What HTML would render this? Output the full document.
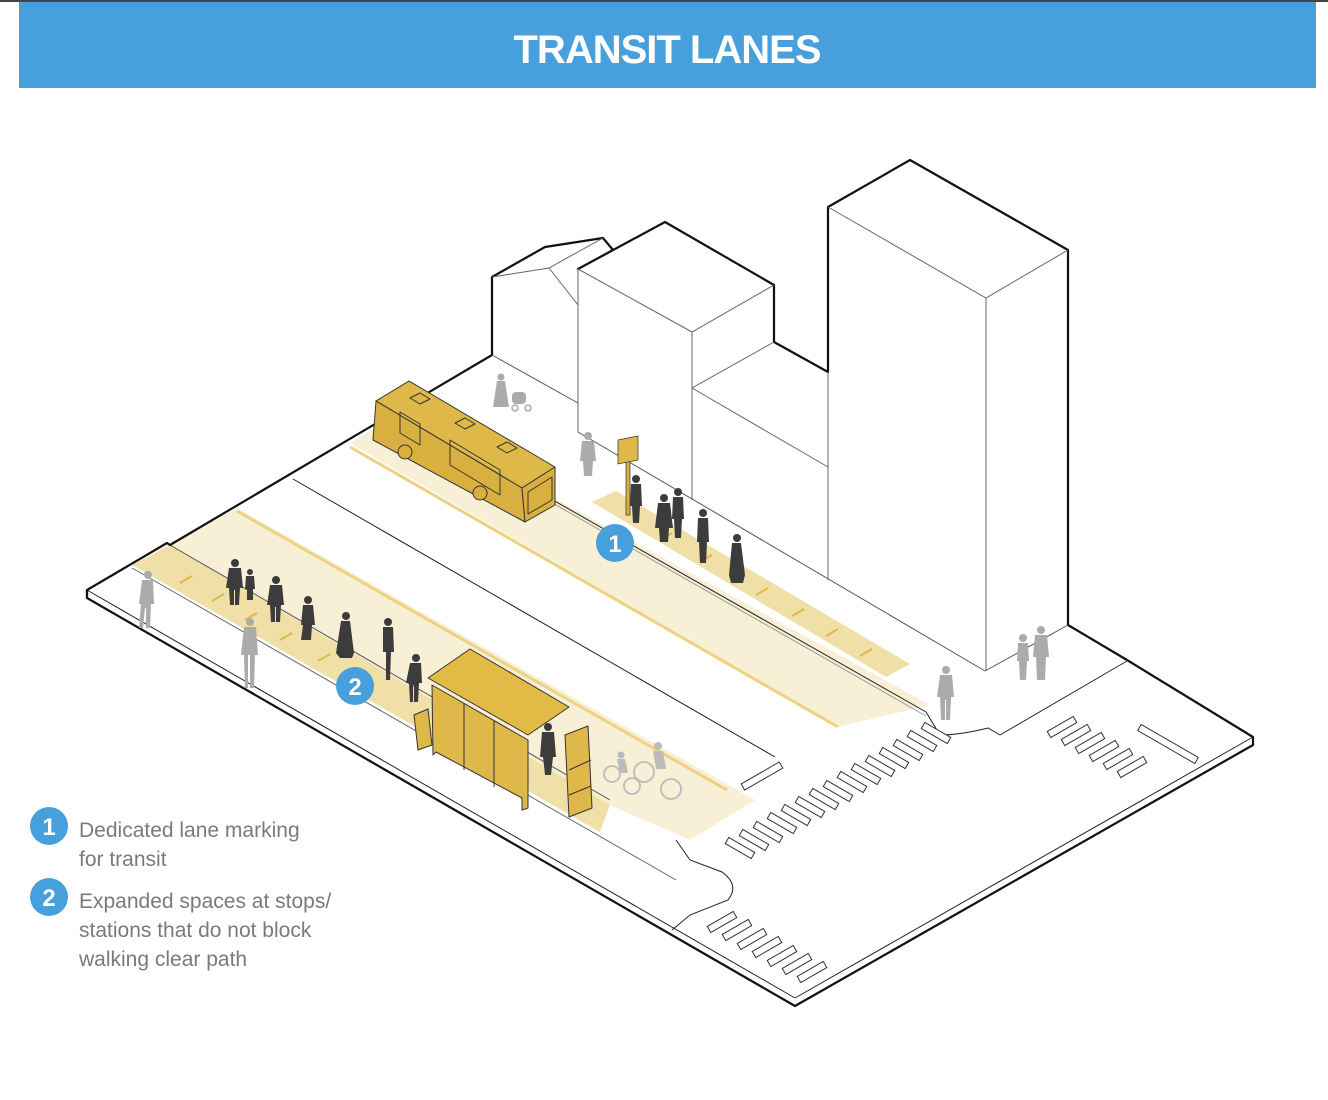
<!DOCTYPE html>
<html><head><meta charset="utf-8"><style>
html,body{margin:0;padding:0;background:#fff;width:1328px;height:1100px;overflow:hidden}
svg{display:block}
</style></head><body>
<svg width="1328" height="1100" viewBox="0 0 1328 1100" xmlns="http://www.w3.org/2000/svg" font-family="Liberation Sans, sans-serif">
<rect x="0" y="0" width="1328" height="2" fill="#444"/>
<rect x="19" y="2" width="1297" height="86" fill="#479fdb"/>
<text x="667" y="63" text-anchor="middle" font-size="40" font-weight="bold" fill="#fff" letter-spacing="-1">TRANSIT LANES</text>

<!-- lane 1 light -->
<polygon points="350,443 400,413 930,705 837,727" fill="#f7efd6"/>
<line x1="350" y1="447" x2="838" y2="727" stroke="#edd282" stroke-width="3"/>
<!-- lane 1 dark sidewalk band -->
<polygon points="592,502 616,491 910,664 886,677" fill="#f1dfa8"/>
<!-- lane 2 -->
<polygon points="170,545 237,508 755,800 690,840 610,805" fill="#f7efd6"/>
<polygon points="132,565 170,545 610,805 600,832" fill="#f1dfa8"/>
<line x1="237" y1="511" x2="727" y2="790" stroke="#edd282" stroke-width="3"/>

<!-- road lines -->
<g fill="none" stroke="#222" stroke-width="1">
<line x1="293" y1="479" x2="775" y2="757"/>
<line x1="398" y1="412" x2="926" y2="712"/>
<line x1="400" y1="416" x2="926" y2="716" stroke="#999"/>
<line x1="170" y1="545" x2="610" y2="800" stroke="#555"/>
<line x1="87" y1="590" x2="795" y2="998"/>
<line x1="795" y1="998" x2="1253" y2="737"/>
<line x1="132" y1="568" x2="676" y2="880" stroke="#666"/>
<!-- building bases -->
<line x1="492" y1="355" x2="578" y2="403" stroke="#555"/>
<line x1="578" y1="432" x2="985" y2="671" stroke="#555"/>
<line x1="985" y1="671" x2="1068" y2="625" stroke="#555"/>
<line x1="1127" y1="661" x2="1000" y2="735"/>
<!-- corners -->
<path d="M926 712 L940 735 Q960 735 988 728 L1000 735"/>
<path d="M676 840 L690 860 L722 872 Q740 885 728 900 L690 915 L672 930"/>
</g>

<!-- platform outline -->
<g fill="none" stroke="#111" stroke-width="2.2" stroke-linejoin="round">
<polyline points="87,598 87,590 167,543 170,545 492,355"/>
<polyline points="87,590 87,598 795,1006 1253,745 1253,737 1127,660 1068,625"/>
</g>

<!-- buildings -->
<g fill="none" stroke="#111" stroke-width="2.2" stroke-linejoin="round">
<polyline points="492,355 492,277 545,247 603,238 613,250 578,269 665,222 774,285 774,342 828,372 828,207 910,160 1068,250 1068,625"/>
</g>
<g fill="none" stroke="#666" stroke-width="1">
<polyline points="492,277 549,268 603,238"/>
<line x1="549" y1="268" x2="578" y2="305"/>
<line x1="578" y1="269" x2="578" y2="432"/>
<polyline points="578,269 692,332 774,285"/>
<line x1="692" y1="332" x2="692" y2="500"/>
<line x1="692" y1="388" x2="774" y2="342"/>
<line x1="692" y1="388" x2="828" y2="467"/>
<line x1="828" y1="372" x2="828" y2="580"/>
<polyline points="828,207 986,298 1068,250"/>
<line x1="986" y1="298" x2="986" y2="671"/>
</g>

<!-- crosswalks -->
<g fill="#fff" stroke="#333" stroke-width="1">
<g transform="translate(740,848) rotate(30)"><rect x="-15" y="-3.5" width="30" height="7"/></g>
<g transform="translate(754,840) rotate(30)"><rect x="-15" y="-3.5" width="30" height="7"/></g>
<g transform="translate(768,832) rotate(30)"><rect x="-15" y="-3.5" width="30" height="7"/></g>
<g transform="translate(782,823) rotate(30)"><rect x="-15" y="-3.5" width="30" height="7"/></g>
<g transform="translate(796,815) rotate(30)"><rect x="-15" y="-3.5" width="30" height="7"/></g>
<g transform="translate(810,807) rotate(30)"><rect x="-15" y="-3.5" width="30" height="7"/></g>
<g transform="translate(824,799) rotate(30)"><rect x="-15" y="-3.5" width="30" height="7"/></g>
<g transform="translate(838,791) rotate(30)"><rect x="-15" y="-3.5" width="30" height="7"/></g>
<g transform="translate(852,782) rotate(30)"><rect x="-15" y="-3.5" width="30" height="7"/></g>
<g transform="translate(866,774) rotate(30)"><rect x="-15" y="-3.5" width="30" height="7"/></g>
<g transform="translate(880,766) rotate(30)"><rect x="-15" y="-3.5" width="30" height="7"/></g>
<g transform="translate(894,758) rotate(30)"><rect x="-15" y="-3.5" width="30" height="7"/></g>
<g transform="translate(908,750) rotate(30)"><rect x="-15" y="-3.5" width="30" height="7"/></g>
<g transform="translate(922,741) rotate(30)"><rect x="-15" y="-3.5" width="30" height="7"/></g>
<g transform="translate(936,733) rotate(30)"><rect x="-15" y="-3.5" width="30" height="7"/></g>
<g transform="translate(762,776) rotate(-30)"><rect x="-22" y="-3.5" width="44" height="7"/></g>
<g transform="translate(1062,727) rotate(-30)"><rect x="-15" y="-3.5" width="30" height="7"/></g>
<g transform="translate(1076,735) rotate(-30)"><rect x="-15" y="-3.5" width="30" height="7"/></g>
<g transform="translate(1090,743) rotate(-30)"><rect x="-15" y="-3.5" width="30" height="7"/></g>
<g transform="translate(1104,751) rotate(-30)"><rect x="-15" y="-3.5" width="30" height="7"/></g>
<g transform="translate(1118,759) rotate(-30)"><rect x="-15" y="-3.5" width="30" height="7"/></g>
<g transform="translate(1132,767) rotate(-30)"><rect x="-15" y="-3.5" width="30" height="7"/></g>
<g transform="translate(1168,744) rotate(30)"><rect x="-33" y="-3.5" width="66" height="7"/></g>
<g transform="translate(722,922) rotate(-30)"><rect x="-15" y="-3.5" width="30" height="7"/></g>
<g transform="translate(737,930) rotate(-30)"><rect x="-15" y="-3.5" width="30" height="7"/></g>
<g transform="translate(752,939) rotate(-30)"><rect x="-15" y="-3.5" width="30" height="7"/></g>
<g transform="translate(767,947) rotate(-30)"><rect x="-15" y="-3.5" width="30" height="7"/></g>
<g transform="translate(782,956) rotate(-30)"><rect x="-15" y="-3.5" width="30" height="7"/></g>
<g transform="translate(797,964) rotate(-30)"><rect x="-15" y="-3.5" width="30" height="7"/></g>
<g transform="translate(812,972) rotate(-30)"><rect x="-15" y="-3.5" width="30" height="7"/></g>
</g>

<!-- queue ticks -->
<g stroke="#e0b94a" stroke-width="2">
<line x1="180" y1="583" x2="192" y2="576"/><line x1="212" y1="601" x2="224" y2="594"/>
<line x1="245" y1="620" x2="257" y2="613"/><line x1="280" y1="640" x2="292" y2="633"/>
<line x1="318" y1="661" x2="330" y2="654"/><line x1="352" y1="680" x2="364" y2="673"/>
<line x1="660" y1="540" x2="672" y2="533"/><line x1="700" y1="562" x2="712" y2="555"/>
<line x1="756" y1="595" x2="768" y2="588"/><line x1="792" y1="616" x2="804" y2="609"/>
<line x1="826" y1="636" x2="838" y2="629"/><line x1="860" y1="656" x2="872" y2="649"/>
</g>

<!-- bus -->
<g stroke="#333" stroke-width="1" stroke-linejoin="round">
<polygon points="376,401 409,381 555,467 522,488" fill="#dfb84a"/>
<polygon points="376,401 522,488 525,522 373,440" fill="#d9b040"/>
<polygon points="522,488 555,467 555,505 525,522" fill="#d9b040"/>
<polygon points="400,412 420,424 420,445 400,433" fill="none"/>
<polygon points="450,440 500,470 500,495 450,465" fill="none"/>
<polygon points="528,492 552,477 552,500 528,514" fill="none"/>
<circle cx="405" cy="452" r="7" fill="#d9b040"/><circle cx="480" cy="493" r="7" fill="#d9b040"/>
<polygon points="410,398 420,393 430,399 420,404" fill="none"/>
<polygon points="455,423 465,418 475,424 465,429" fill="none"/>
<polygon points="497,447 507,442 517,448 507,453" fill="none"/>
</g>
<!-- bus stop sign -->
<rect x="626" y="460" width="4" height="55" fill="#d9b040" stroke="#333" stroke-width="0.7"/>
<polygon points="618,440 638,436 638,460 618,464" fill="#dfb84a" stroke="#333" stroke-width="0.7"/>

<!-- shelter -->
<g stroke="#333" stroke-width="1" stroke-linejoin="round">
<polygon points="414,715 428,709 432,745 418,750" fill="#dfb84a"/>
<polygon points="432,685 528,740 528,808 522,810 522,798 436,752 433,755" fill="#dfb84a"/>
<line x1="464" y1="703" x2="464" y2="770"/><line x1="494" y1="721" x2="494" y2="787"/>
<polygon points="428,678 470,649 569,707 528,735" fill="#e2bb47"/>
<polygon points="565,735 588,726 592,808 569,817" fill="#dfb84a"/>
<line x1="569" y1="770" x2="591" y2="760"/><line x1="569" y1="795" x2="591" y2="786"/>
</g>

<!-- people dark -->
<g fill="#3c3c3c">
<g transform="translate(235,605)"><circle cx="0" cy="-42" r="4"/><path d="M-6 -37 h12 l2 20 h-3 l-1 17 h-4 l0 -15 h-1 l0 15 h-4 l-1 -17 h-3z"/></g>
<g transform="translate(250,600)"><circle cx="0" cy="-28" r="3"/><path d="M-4 -24 h8 l1 13 h-2 l0 11 h-6 l0 -11 h-2z"/></g>
<g transform="translate(276,622)"><circle cx="0" cy="-42" r="4"/><path d="M-6 -37 h12 l2 20 h-3 l-1 17 h-4 l0 -15 h-1 l0 15 h-4 l-1 -17 h-3z"/></g>
<g transform="translate(308,640)"><circle cx="0" cy="-40" r="4"/><path d="M-5 -35 h10 l2 20 h-3 l-1 15 h-10 l2 -15 h-2z"/></g>
<g transform="translate(346,658)"><circle cx="0" cy="-42" r="4"/><path d="M-5 -37 h9 l4 32 l-2 5 h-12 l-4 -5z"/></g>
<g transform="translate(388,680)"><circle cx="0" cy="-58" r="4"/><path d="M-5 -53 h10 l1 25 h-3 l-1 28 h-4 l0 -28 h-3z"/></g>
<g transform="translate(416,702)"><circle cx="0" cy="-44" r="4"/><path d="M-6 -39 h11 l1 20 h-3 l-1 19 h-4 l0 -17 h-1 l0 17 h-3 l-1 -19 h-3z"/></g>
<g transform="translate(548,775)"><circle cx="0" cy="-48" r="4"/><path d="M-6 -43 h12 l2 25 h-3 l-2 18 h-6 l-2 -18 h-3z"/></g>
<g transform="translate(636,523)"><circle cx="0" cy="-44" r="4"/><path d="M-5 -39 h10 l1 22 h-2 l-1 17 h-6 l-1 -17 h-2z"/></g>
<g transform="translate(664,542)"><circle cx="0" cy="-44" r="4"/><path d="M-6 -39 h12 l3 25 h-4 l-1 14 h-8 l-1 -14 h-4z"/></g>
<g transform="translate(678,538)"><circle cx="0" cy="-46" r="4"/><path d="M-5 -41 h10 l1 22 h-2 l-1 19 h-6 l-1 -19 h-2z"/></g>
<g transform="translate(703,563)"><circle cx="0" cy="-50" r="4"/><path d="M-5 -45 h10 l1 24 h-2 l-1 21 h-6 l-1 -21 h-2z"/></g>
<g transform="translate(737,583)"><circle cx="0" cy="-45" r="4"/><path d="M-5 -40 h9 l4 32 l-2 8 h-12 l-2 -8z"/></g>
</g>
<!-- people gray -->
<g fill="#ababab">
<g transform="translate(148,628)"><circle cx="0" cy="-53" r="4"/><path d="M-6 -48 h11 l1 24 h-3 l-1 24 h-4 l0 -20 h-1 l-2 20 h-4 l2 -24 h-2z"/></g>
<g transform="translate(250,688)"><circle cx="0" cy="-66" r="4"/><path d="M-6 -61 h12 l2 28 h-3 l-1 33 h-4 l0 -33 h-2 l0 33 h-3 l-1 -33 h-3z"/></g>
<g transform="translate(501,410)"><circle cx="0" cy="-33" r="3.5"/><path d="M-4 -29 h8 l4 26 h-16z"/></g>
<circle cx="515" cy="408" r="3" fill="none" stroke="#ababab" stroke-width="1.5"/><circle cx="528" cy="408" r="3" fill="none" stroke="#ababab" stroke-width="1.5"/>
<rect x="512" y="392" width="14" height="12" rx="4"/>
<g transform="translate(588,476)"><circle cx="0" cy="-40" r="4"/><path d="M-6 -35 h12 l2 20 h-3 l-1 15 h-8 l-1 -15 h-3z"/></g>
<g transform="translate(946,720)"><circle cx="0" cy="-50" r="4"/><path d="M-6 -45 h12 l2 22 h-3 l-1 23 h-4 l0 -20 h-1 l0 20 h-4 l-1 -23 h-3z"/></g>
<g transform="translate(1023,680)"><circle cx="0" cy="-42" r="4"/><path d="M-5 -37 h10 l1 18 h-2 l-1 19 h-6 l-1 -19 h-2z"/></g>
<g transform="translate(1041,680)"><circle cx="0" cy="-50" r="4"/><path d="M-6 -45 h12 l2 22 h-3 l-1 23 h-8 l-1 -23 h-3z"/></g>
</g>
<!-- bikes -->
<g fill="none" stroke="#bbb" stroke-width="1.8">
<circle cx="612" cy="774" r="8"/><circle cx="632" cy="786" r="8"/>
<circle cx="644" cy="772" r="10"/><circle cx="671" cy="789" r="10"/>
</g>
<g fill="#bbb"><circle cx="621" cy="755" r="3.5"/><path d="M617 759 h8 l3 14 h-8z"/><circle cx="658" cy="746" r="4"/><path d="M653 751 h10 l3 18 h-10z"/></g>

<!-- badges -->
<g font-weight="bold" font-size="24" fill="#fff" text-anchor="middle">
<circle cx="615" cy="543" r="19" fill="#479fdb"/><text x="615" y="552">1</text>
<circle cx="355" cy="686" r="19" fill="#479fdb"/><text x="355" y="695">2</text>
<circle cx="49" cy="826" r="19" fill="#479fdb"/><text x="49" y="835">1</text>
<circle cx="49" cy="897" r="19" fill="#479fdb"/><text x="49" y="906">2</text>
</g>
<g font-size="21" fill="#7a7a7a">
<text x="79" y="837">Dedicated lane marking</text>
<text x="79" y="866">for transit</text>
<text x="79" y="908">Expanded spaces at stops/</text>
<text x="79" y="937">stations that do not block</text>
<text x="79" y="966">walking clear path</text>
</g>
</svg>
</body></html>
